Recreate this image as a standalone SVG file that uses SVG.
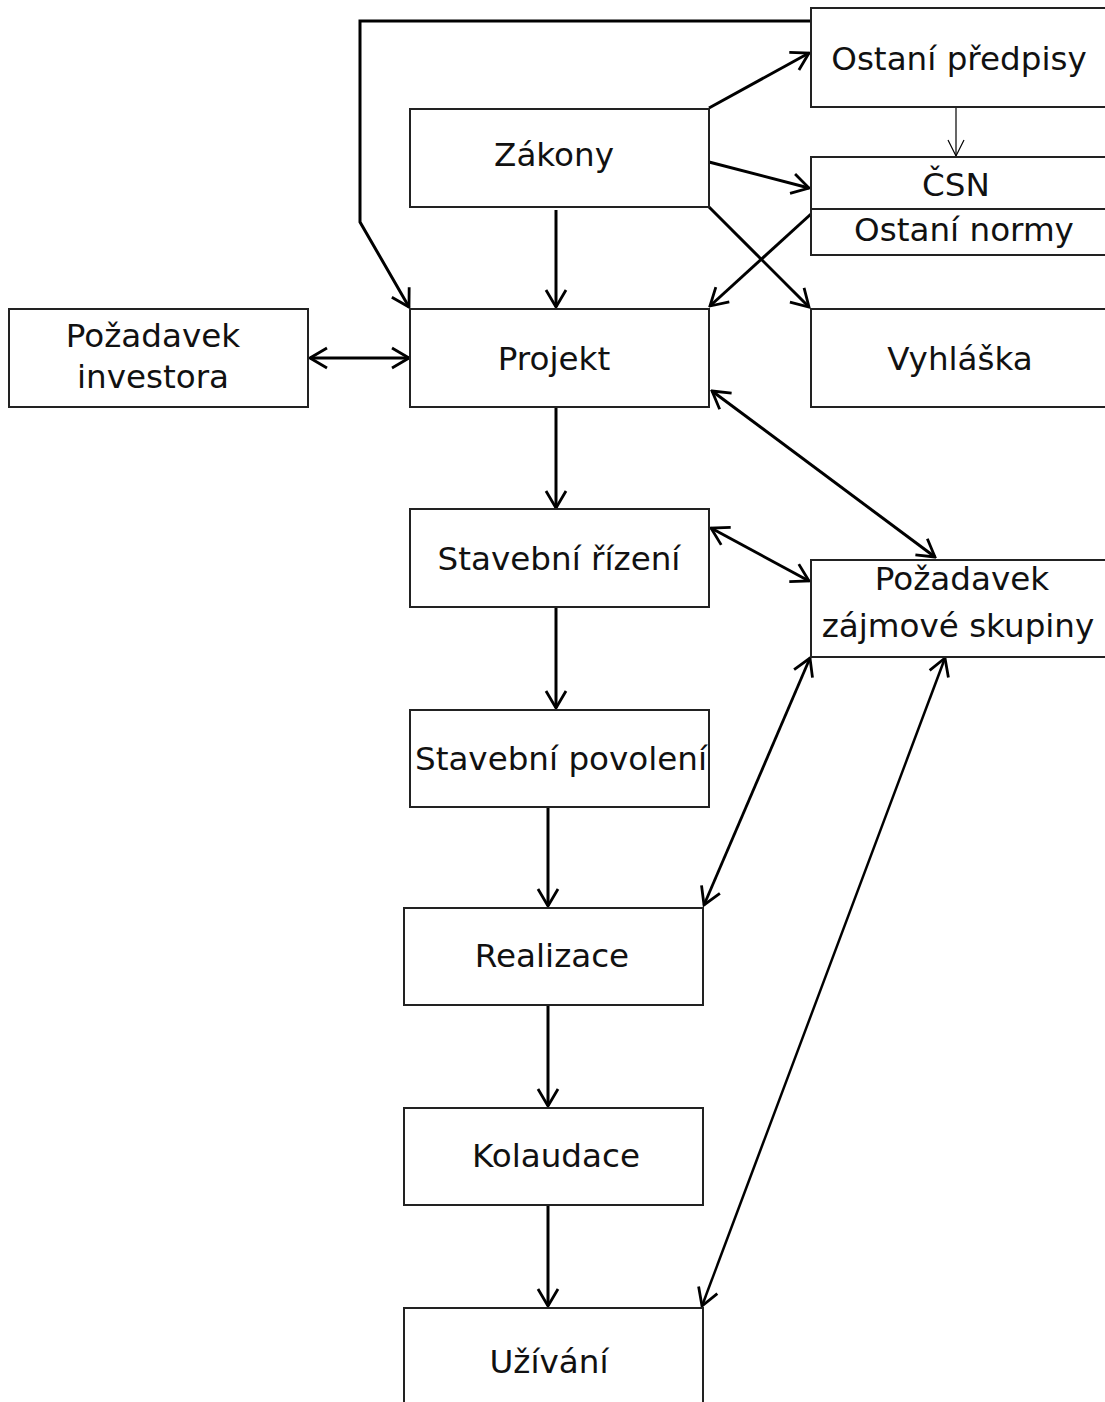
<svg xmlns="http://www.w3.org/2000/svg" width="1105" height="1402" viewBox="0 0 1105 1402">
<style>
.box{fill:#fff;stroke:#222;stroke-width:2}
.t{font-family:"DejaVu Sans",Verdana,sans-serif;font-size:32.6px;fill:#111;text-anchor:middle}
.c{fill:none;stroke:#000;stroke-width:3}
.a{marker-end:url(#ah)}
.b{marker-start:url(#ah);marker-end:url(#ah)}
</style>
<defs>
<marker id="ah" markerUnits="userSpaceOnUse" viewBox="-20 -13 22 26" refX="0" refY="0" markerWidth="22" markerHeight="26" orient="auto-start-reverse">
<path d="M-17,-10 L0,0 L-17,10" fill="none" stroke="#000" stroke-width="2.8"/>
</marker>
<marker id="ahs" markerUnits="userSpaceOnUse" viewBox="-18 -12 20 24" refX="0" refY="0" markerWidth="20" markerHeight="24" orient="auto">
<path d="M-16,-8 L0,0 L-16,8" fill="none" stroke="#000" stroke-width="1.2"/>
</marker>
</defs>
<rect width="1105" height="1402" fill="#fff"/>
<g id="connectors">
<polyline class="c a" points="811,21 360,21 360,222 409,307"/>
<line class="c a" x1="709" y1="108" x2="809" y2="53"/>
<line class="c a" x1="709" y1="162" x2="809" y2="188"/>
<line class="c a" x1="709" y1="207" x2="809" y2="307"/>
<line class="c a" x1="811" y1="214" x2="710" y2="306"/>
<line class="c a" x1="556" y1="210" x2="556" y2="307"/>
<line x1="956" y1="107" x2="956" y2="156" stroke="#000" stroke-width="1.2" marker-end="url(#ahs)"/>
<line class="c b" x1="310" y1="358" x2="409" y2="358"/>
<line class="c b" x1="712" y1="391" x2="935" y2="557"/>
<line class="c b" x1="711" y1="528" x2="809" y2="581"/>
<line class="c b" x1="704" y1="905" x2="810" y2="658" style="stroke-width:2.8"/>
<line class="c b" x1="702" y1="1306" x2="945" y2="658" style="stroke-width:2.5"/>
<line class="c a" x1="556" y1="408" x2="556" y2="508"/>
<line class="c a" x1="556" y1="608" x2="556" y2="708"/>
<line class="c a" x1="548" y1="808" x2="548" y2="906"/>
<line class="c a" x1="548" y1="1006" x2="548" y2="1106"/>
<line class="c a" x1="548" y1="1206" x2="548" y2="1306"/>
</g>
<g id="zakony"><rect class="box" x="410" y="109" width="299" height="98"/><text class="t" x="554" y="166">Zákony</text></g>
<g id="ostatni-predpisy"><rect class="box" x="811" y="8" width="300" height="99"/><text class="t" x="959" y="70">Ostaní předpisy</text></g>
<g id="csn"><rect class="box" x="811" y="157" width="300" height="52"/><text class="t" x="956" y="196">ČSN</text></g>
<g id="ostatni-normy"><rect class="box" x="811" y="209" width="300" height="46"/><text class="t" x="964" y="241">Ostaní normy</text></g>
<g id="vyhlaska"><rect class="box" x="811" y="309" width="300" height="98"/><text class="t" x="960" y="370">Vyhláška</text></g>
<g id="pozadavek-investora"><rect class="box" x="9" y="309" width="299" height="98"/><text class="t" x="153" y="347">Požadavek</text><text class="t" x="153" y="388">investora</text></g>
<g id="projekt"><rect class="box" x="410" y="309" width="299" height="98"/><text class="t" x="554" y="370">Projekt</text></g>
<g id="stavebni-rizeni"><rect class="box" x="410" y="509" width="299" height="98"/><text class="t" x="559" y="570">Stavební řízení</text></g>
<g id="pozadavek-zajmove-skupiny"><rect class="box" x="811" y="560" width="300" height="97"/><text class="t" x="962" y="590">Požadavek</text><text class="t" x="958" y="637">zájmové skupiny</text></g>
<g id="stavebni-povoleni"><rect class="box" x="410" y="710" width="299" height="97"/><text class="t" x="561" y="770">Stavební povolení</text></g>
<g id="realizace"><rect class="box" x="404" y="908" width="299" height="97"/><text class="t" x="552" y="967">Realizace</text></g>
<g id="kolaudace"><rect class="box" x="404" y="1108" width="299" height="97"/><text class="t" x="556" y="1167">Kolaudace</text></g>
<g id="uzivani"><rect class="box" x="404" y="1308" width="299" height="120"/><text class="t" x="549" y="1373">Užívání</text></g>
</svg>
